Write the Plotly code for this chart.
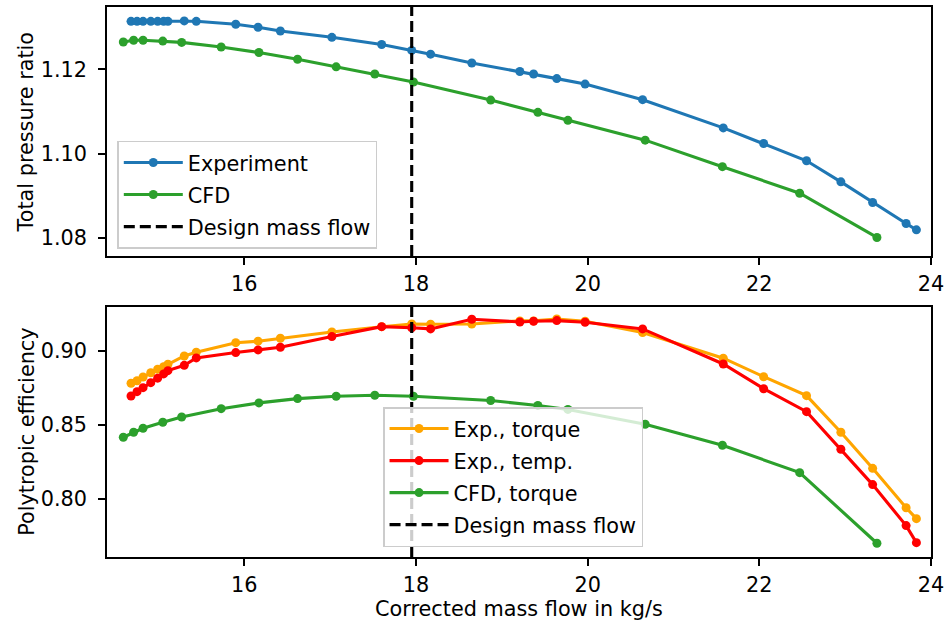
import plotly.graph_objects as go

# ---------------- data ----------------
DESIGN_MASS_FLOW = 17.95

X_EXP = [14.68, 14.75, 14.82, 14.91, 14.99, 15.06, 15.11, 15.30, 15.44, 15.90,
         16.16, 16.42, 17.02, 17.60, 17.95, 18.17, 18.65, 19.21, 19.37, 19.64,
         19.97, 20.64, 21.58, 22.05, 22.55, 22.95, 23.32, 23.71, 23.83]
PR_EXP = [1.1314, 1.1314, 1.1314, 1.1314, 1.1314, 1.1314, 1.1314, 1.1315, 1.1314, 1.1307,
          1.1300, 1.1291, 1.1276, 1.1259, 1.1245, 1.1236, 1.1215, 1.1195, 1.1189, 1.1178,
          1.1165, 1.1128, 1.1061, 1.1024, 1.0983, 1.0933, 1.0884, 1.0834, 1.0819]
ETA_TORQUE = [0.8782, 0.8799, 0.8824, 0.8853, 0.8876, 0.8894, 0.8910, 0.8966, 0.8991, 0.9056,
              0.9066, 0.9086, 0.9128, 0.9164, 0.9182, 0.9180, 0.9182, 0.9203, 0.9203, 0.9216,
              0.9201, 0.9124, 0.8951, 0.8826, 0.8698, 0.8451, 0.8207, 0.7941, 0.7867]
ETA_TEMP = [0.8696, 0.8725, 0.8752, 0.8786, 0.8816, 0.8845, 0.8867, 0.8903, 0.8953, 0.8989,
            0.9007, 0.9025, 0.9097, 0.9164, 0.9157, 0.9149, 0.9214, 0.9196, 0.9201, 0.9205,
            0.9194, 0.9149, 0.8912, 0.8745, 0.8590, 0.8336, 0.8097, 0.7820, 0.7705]

X_CFD = [14.59, 14.71, 14.82, 15.05, 15.27, 15.73, 16.17, 16.62, 17.07, 17.52,
         17.97, 18.87, 19.42, 19.77, 20.67, 21.57, 22.47, 23.37]
PR_CFD = [1.1265, 1.1269, 1.1269, 1.1267, 1.1264, 1.1253, 1.1240, 1.1224, 1.1206, 1.1189,
          1.1170, 1.1127, 1.1098, 1.1079, 1.1032, 1.0969, 1.0906, 1.0801]
ETA_CFD = [0.8417, 0.8451, 0.8478, 0.8518, 0.8554, 0.8610, 0.8649, 0.8678, 0.8694, 0.8701,
           0.8694, 0.8665, 0.8632, 0.8605, 0.8505, 0.8363, 0.8178, 0.7701]

X_TICKS = [16, 18, 20, 22, 24]
PR_TICKS = [1.08, 1.10, 1.12]
ETA_TICKS = [0.80, 0.85, 0.90]

X_RANGE = [14.4, 24.0]
PR_RANGE = [1.0757, 1.1348]
ETA_RANGE = [0.7608, 0.9299]

X_TITLE = "Corrected mass flow in kg/s"
PR_TITLE = "Total pressure ratio"
ETA_TITLE = "Polytropic efficiency"

# ---------------- style ----------------
BLUE = "#1f77b4"
GREEN = "#2ca02c"
ORANGE = "#ffa500"
RED = "#ff0000"
FONT = "DejaVu Sans"
FS = 20.8
LW = 3.1
MS = 9
TOP_DOMAIN = [0.5473, 1.0]
BOT_DOMAIN = [0.0, 0.4551]

fig = go.Figure()


def series(x, y, name, color, xa, ya, legend):
    fig.add_trace(go.Scatter(
        x=x, y=y, name=name, mode="lines+markers",
        line=dict(color=color, width=LW),
        marker=dict(color=color, size=MS, line=dict(width=0)),
        xaxis=xa, yaxis=ya, legend=legend, legendgroup=name,
    ))


series(X_EXP, PR_EXP, "Experiment", BLUE, "x", "y", "legend")
series(X_CFD, PR_CFD, "CFD", GREEN, "x", "y", "legend")
series(X_EXP, ETA_TORQUE, "Exp., torque", ORANGE, "x2", "y2", "legend2")
series(X_EXP, ETA_TEMP, "Exp., temp.", RED, "x2", "y2", "legend2")
series(X_CFD, ETA_CFD, "CFD, torque", GREEN, "x2", "y2", "legend2")

for xr, yr, lg in (("x", "y domain", "legend"), ("x2", "y2 domain", "legend2")):
    fig.add_shape(
        type="line", xref=xr, yref=yr,
        x0=DESIGN_MASS_FLOW, x1=DESIGN_MASS_FLOW, y0=0, y1=1,
        line=dict(color="black", width=LW, dash="11px,5px"),
        name="Design mass flow", showlegend=True, legend=lg, legendrank=2000,
        legendgroup="design_" + lg,
    )

axis_common = dict(
    showline=True, mirror=True, linecolor="black", linewidth=1.7,
    ticks="outside", ticklen=7, tickwidth=1.7, tickcolor="black",
    showgrid=False, zeroline=False, automargin=False,
    tickfont=dict(family=FONT, size=FS, color="black"),
)

title_font = dict(family=FONT, size=FS, color="black")
annotations = [
    dict(text=PR_TITLE, textangle=-90, xref="paper", yref="paper",
         x=-0.0971, y=sum(TOP_DOMAIN) / 2, xanchor="center", yanchor="middle",
         showarrow=False, font=title_font),
    dict(text=ETA_TITLE, textangle=-90, xref="paper", yref="paper",
         x=-0.0971, y=sum(BOT_DOMAIN) / 2, xanchor="center", yanchor="middle",
         showarrow=False, font=title_font),
    dict(text=X_TITLE, xref="paper", yref="paper",
         x=0.5, y=-0.0945, xanchor="center", yanchor="middle",
         showarrow=False, font=title_font),
]

legend_common = dict(
    xanchor="left", yanchor="top",
    bgcolor="rgba(255,255,255,0.8)", bordercolor="#cccccc", borderwidth=1.5,
    font=dict(family=FONT, size=FS, color="black"), itemwidth=59, tracegroupgap=2,
)

fig.update_layout(
    width=946, height=628,
    margin=dict(l=107, r=15, t=7, b=71, autoexpand=False),
    paper_bgcolor="white", plot_bgcolor="white",
    font=dict(family=FONT, size=FS, color="black"),
    xaxis=dict(domain=[0, 1], anchor="y", range=X_RANGE, tickvals=X_TICKS,
               ticklabelstandoff=1, **axis_common),
    yaxis=dict(domain=TOP_DOMAIN, anchor="x", range=PR_RANGE, tickvals=PR_TICKS,
               tickformat=".2f", ticklabelstandoff=7, **axis_common),
    xaxis2=dict(domain=[0, 1], anchor="y2", range=X_RANGE, tickvals=X_TICKS,
                ticklabelstandoff=1, **axis_common),
    yaxis2=dict(domain=BOT_DOMAIN, anchor="x2", range=ETA_RANGE, tickvals=ETA_TICKS,
                tickformat=".2f", ticklabelstandoff=7, **axis_common),
    annotations=annotations,
    legend=dict(x=0.0125, y=0.7564, **legend_common),
    legend2=dict(x=0.335, y=0.2727, **legend_common),
    showlegend=True,
)

fig.write_html("out.html", config={"displayModeBar": False},
               post_script="document.body.style.margin='0px';")
